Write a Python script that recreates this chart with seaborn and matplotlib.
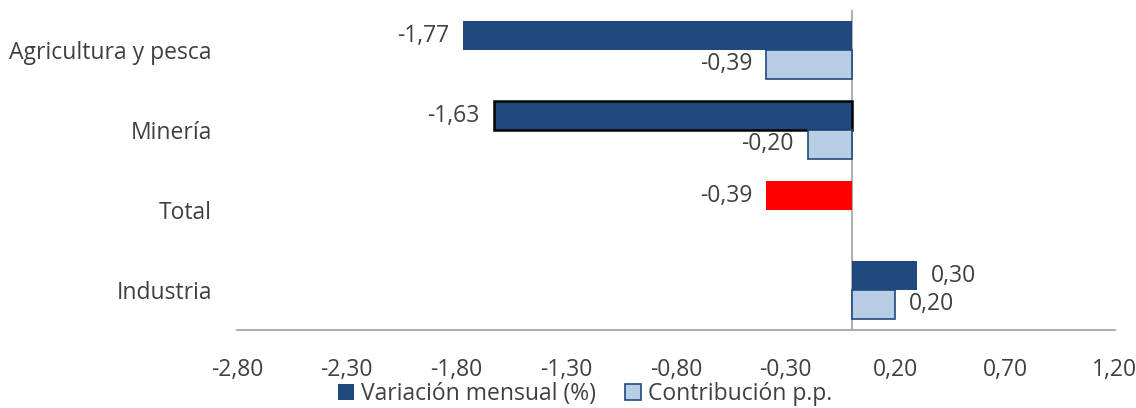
import numpy as np
import pandas as pd
import seaborn as sns
import matplotlib.pyplot as plt
from matplotlib.patches import Patch

# data
sectores = ['Agricultura y pesca', 'Minería', 'Total', 'Industria']
variacion = [-1.77, -1.63, -0.39, 0.30]
contribucion = [-0.39, -0.20, np.nan, 0.20]
series = ['Variación mensual (%)', 'Contribución p.p.']
xticks = np.arange(-2.8, 1.21, 0.5)

df = pd.DataFrame({
    'sector': sectores * 2,
    'serie': [series[0]] * 4 + [series[1]] * 4,
    'valor': variacion + contribucion,
})

dark = '#1F497D'
light = '#B9CDE5'
red = '#FF0000'
txt = '#404040'
fs = 16.5

sns.set_style('white')
plt.rcParams['font.family'] = ['Open Sans', 'DejaVu Sans']

fig = plt.figure(figsize=(11.36, 4.08), dpi=100)
ax = fig.add_axes([0.2086, 0.191, 0.7729, 0.7843])

sns.barplot(data=df, y='sector', x='valor', hue='serie', orient='h',
            order=sectores, hue_order=series, palette=[dark, light],
            width=0.72, ax=ax, legend=False, saturation=1)

def fmt(v):
    return f'{v:.2f}'.replace('.', ',')

# style bars per series
for i, cont in enumerate(ax.containers):
    for bar in cont:
        if i == 1:
            bar.set_edgecolor(dark)
            bar.set_linewidth(1.2)
        else:
            bar.set_linewidth(0)
    labs = []
    for bar in cont:
        w = bar.get_width()
        labs.append('' if np.isnan(w) else fmt(w))
    ax.bar_label(cont, labels=labs, padding=10, fontsize=fs, color=txt)

# Total bar in red, Minería with black outline
bars0 = ax.containers[0]
bars0[2].set_facecolor(red)
bars0[1].set_edgecolor('black')
bars0[1].set_linewidth(1.8)

ax.axvline(0, color='#A6A6A6', lw=1.3, zorder=0.5)
ax.set_xlim(-2.8, 1.2)
ax.set_ylim(3.5, -0.5)
ax.set_xticks(xticks)
ax.set_xticklabels([fmt(t) for t in xticks])
ax.tick_params(axis='x', length=0, pad=20, labelsize=fs, labelcolor=txt)
ax.tick_params(axis='y', length=0, pad=18, labelsize=fs, labelcolor=txt)
ax.set_xlabel('')
ax.set_ylabel('')
for s in ['top', 'right', 'left']:
    ax.spines[s].set_visible(False)
ax.spines['bottom'].set_color('#A6A6A6')
ax.spines['bottom'].set_linewidth(1.3)

handles = [Patch(facecolor=dark, edgecolor=dark, lw=0),
           Patch(facecolor=light, edgecolor=dark, lw=1.2)]
fig.legend(handles, series, loc='lower center', bbox_to_anchor=(0.515, -0.045),
           ncol=2, frameon=False, fontsize=fs, labelcolor=txt,
           handlelength=0.7, handleheight=0.7, handletextpad=0.3, columnspacing=1.3)

fig.savefig('out.png', dpi=100)
